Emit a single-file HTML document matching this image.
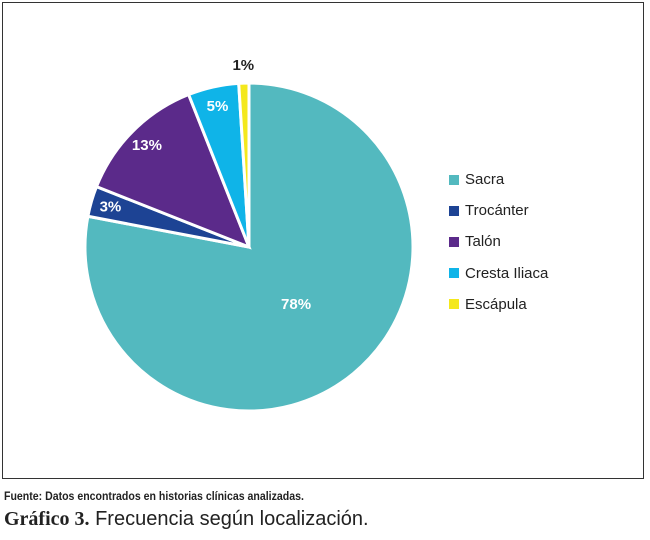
<!DOCTYPE html>
<html><head><meta charset="utf-8"><style>
body{margin:0;width:650px;height:540px;background:#fff;font-family:"Liberation Sans",sans-serif;position:relative;overflow:hidden}
#frame{position:absolute;left:2px;top:2px;width:642px;height:477px;border:1.5px solid #333;box-sizing:border-box}
.leg{position:absolute;left:449px;font-size:15px;color:#222;display:flex;align-items:center}
.leg span{display:inline-block;width:10px;height:10px;margin-right:6px}
#src{position:absolute;left:4px;top:489px;font-size:12px;font-weight:bold;color:#222;transform:scaleX(0.88);transform-origin:left}
#cap{position:absolute;left:4px;top:508px;font-size:20px;color:#222}
#cap b{font-family:"Liberation Serif",serif}
</style></head><body>
<div id="frame"></div>
<svg id="pie" width="650" height="540" style="position:absolute;left:0;top:0"></svg>
<div id="legend"></div>
<div id="src">Fuente: Datos encontrados en historias clínicas analizadas.</div>
<div id="cap"><b>Gráfico 3.</b> Frecuencia según localización.</div>
<script>
const categories=["Sacra","Trocánter","Talón","Cresta Iliaca","Escápula"];
const values=[78,3,13,5,1];
const colors=["#53b9bf","#1d4394","#5b2a8a","#0fb4e8","#f4e81c"];
const cx=249,cy=247,r=164;
const svg=document.getElementById('pie');
const NS="http://www.w3.org/2000/svg";
const total=values.reduce((a,b)=>a+b,0);
function pt(a,rad){return [cx+Math.sin(a)*rad,cy-Math.cos(a)*rad];}
let acc=0;
values.forEach((v,i)=>{
  const a0=acc/total*2*Math.PI;acc+=v;const a1=acc/total*2*Math.PI;
  const p0=pt(a0,r),p1=pt(a1,r);
  const path=document.createElementNS(NS,'path');
  path.setAttribute('d',`M${cx},${cy}L${p0[0]},${p0[1]}A${r},${r} 0 ${a1-a0>Math.PI?1:0} 1 ${p1[0]},${p1[1]}Z`);
  path.setAttribute('fill',colors[i]);path.setAttribute('stroke','#fff');path.setAttribute('stroke-width','3');
  
  
  svg.appendChild(path);
  const frac=v/total;
  const k=frac>0.5?0.45:(frac<0.02?1.11:0.88);
  const m=pt((a0+a1)/2,r*k);
  const t=document.createElementNS(NS,'text');
  t.setAttribute('x',m[0]);t.setAttribute('y',m[1]+5);t.setAttribute('text-anchor','middle');
  t.setAttribute('font-size','15');t.setAttribute('font-weight','bold');
  t.setAttribute('fill',frac<0.02?'#222':'#fff');
  t.textContent=v+'%';
  
  
  svg.appendChild(t);
});
const leg=document.getElementById('legend');
categories.forEach((c,i)=>{
  const d=document.createElement('div');d.className='leg';d.style.top=(171+i*31.2)+'px';
  
  
  d.innerHTML=`<span style="background:${colors[i]}"></span>${c}`;
  leg.appendChild(d);
});
</script>
</body></html>
